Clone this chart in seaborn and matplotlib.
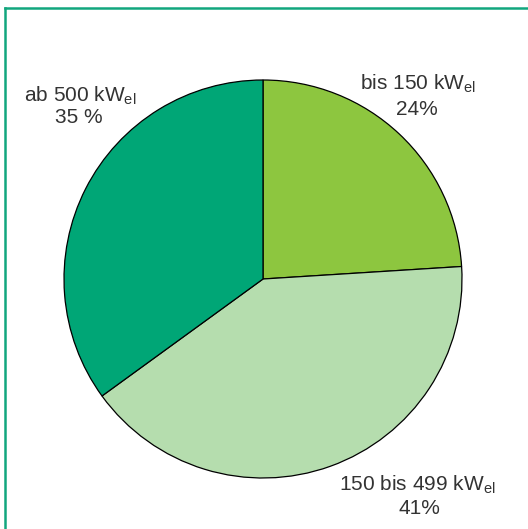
import matplotlib
matplotlib.use("Agg")
import matplotlib.pyplot as plt
import seaborn as sns
from matplotlib.lines import Line2D

labels = ["bis 150 kW", "150 bis 499 kW", "ab 500 kW"]
percent_labels = ["24%", "41%", "35 %"]
values = [24, 41, 35]
colors = ["#8DC63F", "#B5DDAE", "#00A676"]

sns.set_theme(style="white")
plt.rcParams['font.family'] = ['Liberation Sans', 'DejaVu Sans']
plt.rcParams['mathtext.fontset'] = 'custom'
plt.rcParams['mathtext.rm'] = 'Liberation Sans'
plt.rcParams['mathtext.it'] = 'Liberation Sans'

W, H = 528, 529
fig = plt.figure(figsize=(W / 100, H / 100), dpi=100)
fig.patch.set_facecolor("white")

cx, cy, r = 263, 279, 199
ax = fig.add_axes([(cx - r) / W, (H - cy - r) / H, 2 * r / W, 2 * r / H])
ax.pie(values, colors=colors, startangle=90, counterclock=False,
       wedgeprops=dict(edgecolor="black", linewidth=0.9))
ax.set_xlim(-1, 1)
ax.set_ylim(-1, 1)
ax.set_aspect("equal")
ax.axis("off")

# frame (left and top lines)
fc = "#12A67E"
fig.add_artist(Line2D([5 / W, 5 / W], [0, 1 - 8 / H], color=fc, lw=1.8,
                      transform=fig.transFigure, solid_capstyle="projecting"))
fig.add_artist(Line2D([5 / W, 1], [1 - 8 / H, 1 - 8 / H], color=fc, lw=1.8,
                      transform=fig.transFigure, solid_capstyle="projecting"))

tc = "#333333"
fs = 15
# (x center, baseline y) in pixels from top for name and percent lines
pos = [((418, 90), (417, 115)),
       ((417, 491), (419, 514)),
       ((80, 102), (79, 123))]
for lab, pl, ((x1, y1), (x2, y2)) in zip(labels, percent_labels, pos):
    fig.text(x1 / W, 1 - y1 / H, lab + r"$_{\mathrm{el}}$", ha="center",
             va="baseline", fontsize=fs, color=tc)
    fig.text(x2 / W, 1 - y2 / H, pl, ha="center", va="baseline",
             fontsize=fs, color=tc)

fig.savefig("out.png", dpi=100, facecolor="white")
